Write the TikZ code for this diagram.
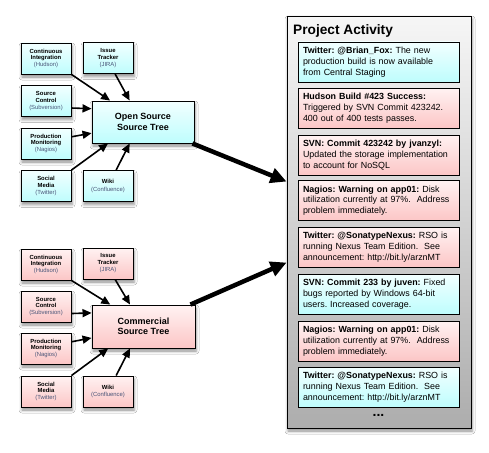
\documentclass[tikz,border=0pt]{standalone}
\usepackage{fontspec}
\setmainfont{Liberation Sans}
\usetikzlibrary{arrows.meta,shadows.blur,calc}
\frenchspacing
\definecolor{cyantop}{HTML}{F2FFFF}
\definecolor{cyanbot}{HTML}{BEFDFD}
\definecolor{pinktop}{HTML}{FFF2F2}
\definecolor{pinkbot}{HTML}{FCC6C6}
\definecolor{graytop}{HTML}{F6F6F6}
\definecolor{graybot}{HTML}{ADADAD}
\definecolor{subtxt}{HTML}{4A5578}
\tikzset{
  shad/.style={blur shadow={shadow xshift=1pt,shadow yshift=-3pt,shadow blur radius=3pt,shadow opacity=45}},
  srcbox/.style={draw=black,line width=0.9pt,minimum width=50pt,minimum height=31pt,inner sep=0pt,align=center,
     font=\fontsize{5.9}{6.7}\selectfont\bfseries,shad},
  cy/.style={top color=cyantop,bottom color=cyanbot},
  pk/.style={top color=pinktop,bottom color=pinkbot},
  treebox/.style={draw=black,line width=0.9pt,minimum width=102pt,minimum height=42pt,inner sep=0pt,align=center,
     font=\fontsize{9}{10.5}\selectfont\bfseries,shad},
  evbox/.style={draw=black,line width=0.9pt,minimum width=161pt,minimum height=40pt,text width=151pt,inner xsep=5pt,inner ysep=0pt,align=left,
     font=\fontsize{8.9}{10.7}\selectfont\frenchspacing},
  thinarr/.style={line width=1.6pt,-{Triangle[length=9pt,width=8pt]}},
  bigarr/.style={line width=4.5pt,-{Triangle[length=16pt,width=15pt]}},
}
\newcommand{\sub}[1]{\\[0.5pt]{\mdseries\color{subtxt}#1}}
\begin{document}
\begin{tikzpicture}[x=1pt,y=-1pt]
\useasboundingbox (0,0) rectangle (489,452);
\fill[white] (0,0) rectangle (489,452);
% ---------- top group
\node[srcbox,cy] (ci1) at (46,58.5) {Continuous\\Integration\sub{(Hudson)}};
\node[srcbox,cy] (it1) at (108,58) {Issue\\Tracker\sub{(JIRA)}};
\node[srcbox,cy] (sc1) at (46,101) {Source\\Control\sub{(Subversion)}};
\node[srcbox,cy] (pm1) at (46,143.5) {Production\\Monitoring\sub{(Nagios)}};
\node[srcbox,cy] (sm1) at (46,186) {Social\\Media\sub{(Twitter)}};
\node[srcbox,cy] (wk1) at (108,186) {Wiki\sub{(Confluence)}};
\node[treebox,cy] (tr1) at (143,122) {Open Source\\Source Tree};
% ---------- bottom group
\node[srcbox,pk] (ci2) at (46,264.5) {Continuous\\Integration\sub{(Hudson)}};
\node[srcbox,pk] (it2) at (108,263.5) {Issue\\Tracker\sub{(JIRA)}};
\node[srcbox,pk] (sc2) at (46,306.5) {Source\\Control\sub{(Subversion)}};
\node[srcbox,pk] (pm2) at (46,348.5) {Production\\Monitoring\sub{(Nagios)}};
\node[srcbox,pk] (sm2) at (46,391.5) {Social\\Media\sub{(Twitter)}};
\node[srcbox,pk] (wk2) at (108,391.5) {Wiki\sub{(Confluence)}};
\node[treebox,pk,minimum width=103pt,minimum height=43pt] (tr2) at (143.5,326.5) {Commercial\\Source Tree};
% ---------- thin arrows
\foreach \g in {1,2}{
  \draw[thinarr] (ci\g.south east) -- ($(tr\g.north west)!0.18!(tr\g.north east)$);
  \draw[thinarr] ($(it\g.south west)!0.64!(it\g.south east)$) -- ($(tr\g.north west)!0.37!(tr\g.north east)$);
  \draw[thinarr] ($(sc\g.north east)!0.72!(sc\g.south east)$) -- ($(tr\g.north west)!0.19!(tr\g.south west)$);
  \draw[thinarr] ($(pm\g.north east)!0.29!(pm\g.south east)$) -- ($(tr\g.north west)!0.76!(tr\g.south west)$);
  \draw[thinarr] (sm\g.north east) -- ($(tr\g.south west)!0.16!(tr\g.south east)$);
  \draw[thinarr] ($(wk\g.north west)!0.66!(wk\g.north east)$) -- ($(tr\g.south west)!0.37!(tr\g.south east)$);
}
% ---------- panel
\node[draw=black,line width=0.9pt,top color=graytop,bottom color=graybot,minimum width=184pt,minimum height=412pt,inner sep=0pt,shad] (panel) at (379,222) {};
\node[anchor=west,font=\fontsize{13.7}{15}\selectfont\bfseries,inner sep=0pt] (title) at (293,31) {Project Activity};
\node[evbox,cy] (e1) at (378.5,62) {\textbf{Twitter: @Brian\_Fox:} The new\\production build is now available\\from Central Staging};
\node[evbox,pk] (e2) at (378.5,108) {\textbf{Hudson Build \#423 Success:}\\Triggered by SVN Commit 423242.\\400 out of 400 tests passes.};
\node[evbox,pk] (e3) at (378.5,155) {\textbf{SVN: Commit 423242 by jvanzyl:}\\Updated the storage implementation\\to account for NoSQL};
\node[evbox,pk] (e4) at (378.5,200.5) {\textbf{Nagios: Warning on app01:} Disk\\utilization currently at 97\%.\ \ Address\\problem immediately.};
\node[evbox,pk] (e5) at (378.5,247) {\textbf{Twitter: @SonatypeNexus:} RSO is\\running Nexus Team Edition.\ \ See\\announcement: http://bit.ly/arznMT};
\node[evbox,cy] (e6) at (378.5,294) {\textbf{SVN: Commit 233 by juven:} Fixed\\bugs reported by Windows 64-bit\\users. Increased coverage.};
\node[evbox,pk] (e7) at (378.5,341) {\textbf{Nagios: Warning on app01:} Disk\\utilization currently at 97\%.\ \ Address\\problem immediately.};
\node[evbox,cy] (e8) at (378.5,387) {\textbf{Twitter: @SonatypeNexus:} RSO is\\running Nexus Team Edition.\ \ See\\announcement: http://bit.ly/arznMT};
\node[font=\fontsize{14}{14}\selectfont\bfseries,inner sep=0pt] (dots) at (378.5,415) {...};
% ---------- big arrows
\draw[bigarr] ($(tr1.south east)+(-2,0)$) -- ($(panel.north west)+(0,166)$);
\draw[bigarr] ($(tr2.north east)+(-5,0)$) -- ($(panel.north west)+(0,247)$);
\end{tikzpicture}
\end{document}
